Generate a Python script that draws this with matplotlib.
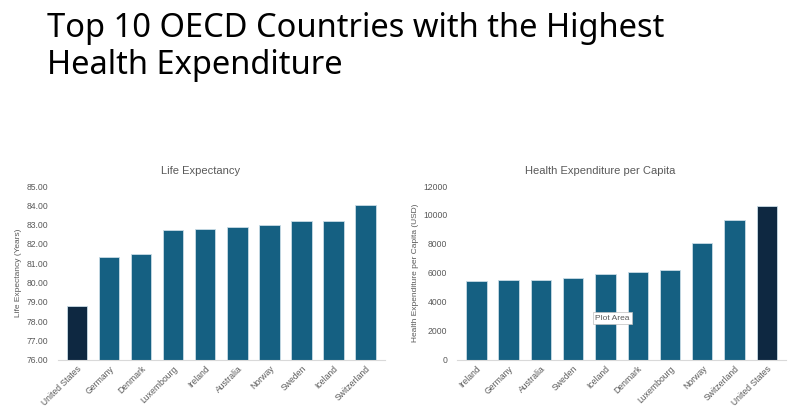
import matplotlib
matplotlib.use("Agg")
import matplotlib.pyplot as plt
from matplotlib.ticker import FormatStrFormatter

plt.rcParams['font.family'] = ['Liberation Sans', 'DejaVu Sans']

# 数据
life_countries = ['United States', 'Germany', 'Denmark', 'Luxembourg', 'Ireland',
                  'Australia', 'Norway', 'Sweden', 'Iceland', 'Switzerland']
life_values = [78.8, 81.3, 81.5, 82.7, 82.8, 82.9, 83.0, 83.2, 83.2, 84.0]

spend_countries = ['Ireland', 'Germany', 'Australia', 'Sweden', 'Iceland',
                   'Denmark', 'Luxembourg', 'Norway', 'Switzerland', 'United States']
spend_values = [5465, 5490, 5535, 5650, 5930, 6090, 6235, 8045, 9675, 10600]

MAIN = '#156082'
DARK = '#0E2841'
GRAY = '#595959'


def bar_colors(names):
    return [DARK if n == 'United States' else MAIN for n in names]


def style_axis(ax, title, ylabel):
    ax.set_title(title, fontsize=8, color=GRAY, pad=9, x=0.436)
    ax.set_ylabel(ylabel, fontsize=6, color=GRAY, labelpad=3)
    for s in ['top', 'right', 'left']:
        ax.spines[s].set_visible(False)
    ax.spines['bottom'].set_color('#D9D9D9')
    ax.spines['bottom'].set_linewidth(0.8)
    ax.tick_params(axis='both', length=0, labelsize=6.2, colors=GRAY)
    ax.tick_params(axis='y', pad=7)
    ax.tick_params(axis='x', pad=3)
    for lab in ax.get_xticklabels():
        lab.set_rotation(45)
        lab.set_ha('right')
        lab.set_rotation_mode('anchor')


fig = plt.figure(figsize=(7.99, 4.18), dpi=100)
fig.text(0.059, 0.972, 'Top 10 OECD Countries with the Highest\nHealth Expenditure',
         fontsize=23.5, va='top', ha='left', color='black', linespacing=1.18,
         family=['Noto Sans', 'DejaVu Sans'])

ax1 = fig.add_axes([0.0726, 0.139, 0.409, 0.416])
ax1.bar(life_countries, life_values, width=0.63, color=bar_colors(life_countries),
        edgecolor='#C9DCE6', linewidth=0.6)
ax1.set_ylim(76, 85)
ax1.set_yticks(range(76, 86))
ax1.yaxis.set_major_formatter(FormatStrFormatter('%.2f'))
ax1.set_xlim(-0.6, 9.6)
style_axis(ax1, 'Life Expectancy', 'Life Expectancy (Years)')

ax2 = fig.add_axes([0.572, 0.139, 0.412, 0.416])
ax2.bar(spend_countries, spend_values, width=0.63, color=bar_colors(spend_countries),
        edgecolor='#C9DCE6', linewidth=0.6)
ax2.set_ylim(0, 12000)
ax2.set_yticks(range(0, 12001, 2000))
ax2.set_xlim(-0.6, 9.6)
style_axis(ax2, 'Health Expenditure per Capita', 'Health Expenditure per Capita (USD)')

# 截图里残留的提示框
ax2.text(0.42, 0.24, 'Plot Area', transform=ax2.transAxes, fontsize=6, color=GRAY,
         ha='left', va='center',
         bbox=dict(boxstyle='square,pad=0.3', facecolor='white', edgecolor='#BFBFBF',
                   linewidth=0.5))

fig.savefig('out.png', dpi=100)
